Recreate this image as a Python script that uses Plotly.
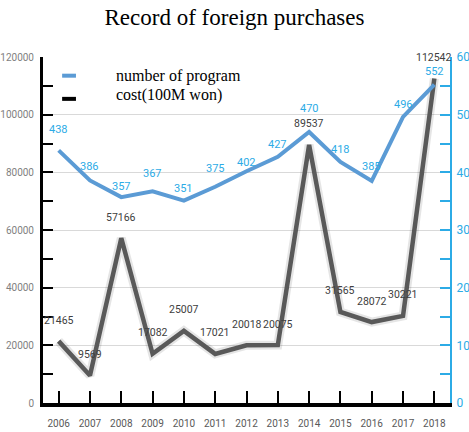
import plotly.graph_objects as go

years = ["2006", "2007", "2008", "2009", "2010", "2011", "2012", "2013", "2014", "2015", "2016", "2017", "2018"]
programs = [438, 386, 357, 367, 351, 375, 402, 427, 470, 418, 385, 496, 552]
costs = [21465, 9569, 57166, 17082, 25007, 17021, 20018, 20075, 89537, 31565, 28072, 30221, 112542]

# label vertical offsets (px above point) - styling only
prog_lift = [21, 14, 11, 18, 12, 18, 9, 12, 23, 12, 14, 12, 13]
cost_lift = 21

narrow = "Liberation Sans Narrow, Roboto, Liberation Sans, sans-serif"
serif = "Liberation Serif, Times New Roman, serif"
blue_line = "#5b9bd5"
blue_txt = "#2cabe6"
gray_line = "#595959"

fig = go.Figure()
# soft shadow for cost line
fig.add_trace(go.Scatter(x=years, y=costs, mode="lines", yaxis="y",
                         line=dict(color="rgba(0,0,0,0.10)", width=9),
                         hoverinfo="skip", showlegend=False))
fig.add_trace(go.Scatter(x=years, y=costs, mode="lines", yaxis="y", name="cost(100M won)",
                         line=dict(color=gray_line, width=4.5), showlegend=False))
fig.add_trace(go.Scatter(x=years, y=programs, mode="lines", yaxis="y2", name="number of program",
                         line=dict(color=blue_line, width=4), showlegend=False))

for i, v in enumerate(costs):
    fig.add_annotation(x=i, y=v, xref="x", yref="y", text=str(v), showarrow=False,
                       xanchor="center", yanchor="middle", yshift=cost_lift,
                       font=dict(family=narrow, size=10.5, color="#404040"))
for i, (v, s) in enumerate(zip(programs, prog_lift)):
    fig.add_annotation(x=i, y=v, xref="x", yref="y2", text=str(v), showarrow=False,
                       xanchor="center", yanchor="middle", yshift=s,
                       font=dict(family=narrow, size=11, color=blue_txt))

# custom legend
fig.add_shape(type="line", xref="paper", yref="paper", x0=0.047, x1=0.081, y0=0.946, y1=0.946,
              line=dict(color=blue_line, width=4))
fig.add_shape(type="line", xref="paper", yref="paper", x0=0.047, x1=0.081, y0=0.879, y1=0.879,
              line=dict(color="#000000", width=4))
fig.add_annotation(xref="paper", yref="paper", x=0.178, y=0.945, xanchor="left", yanchor="middle",
                   text="number of program", showarrow=False, borderpad=0,
                   font=dict(family=serif, size=16, color="#000"))
fig.add_annotation(xref="paper", yref="paper", x=0.178, y=0.889, xanchor="left", yanchor="middle",
                   text="cost(100M won)", showarrow=False, borderpad=0,
                   font=dict(family=serif, size=16, color="#000"))

fig.update_layout(
    width=469, height=432,
    margin=dict(l=43, r=19, t=57, b=29, autoexpand=False),
    paper_bgcolor="white", plot_bgcolor="white",
    title=dict(text="Record of foreign purchases", x=0.5, xref="container", xanchor="center",
               y=1 - 17 / 432, yref="container", yanchor="middle",
               font=dict(family=serif, size=23, color="#000")),
    xaxis=dict(type="category", range=[-0.5, 12.5], showline=True, linecolor="#000", linewidth=4,
               ticks="inside", ticklen=12, tickwidth=2, tickcolor="#000", automargin=False,
               tickfont=dict(family=narrow, size=10, color="#595959"),
               ticklabelstandoff=8, showgrid=False, zeroline=False),
    yaxis=dict(range=[0, 120000], dtick=20000, tickformat="d", showline=True, linecolor="#000", linewidth=3,
               ticks="inside", ticklen=10, tickwidth=2, tickcolor="#000", automargin=False,
               minor=dict(dtick=10000, ticks="inside", ticklen=10, tickwidth=2, tickcolor="#000", showgrid=False),
               showgrid=True, gridcolor="#d9d9d9", gridwidth=1, zeroline=False,
               tickfont=dict(family=narrow, size=10, color="#7f7f7f"), ticklabelstandoff=4),
    yaxis2=dict(range=[0, 600], dtick=100, tickformat="d", overlaying="y", side="right", showline=True,
                linecolor=blue_txt, linewidth=2, ticks="inside", ticklen=10, tickwidth=2, tickcolor=blue_txt,
                minor=dict(dtick=50, ticks="inside", ticklen=10, tickwidth=2, tickcolor=blue_txt, showgrid=False),
                showgrid=False, zeroline=False, automargin=False,
                tickfont=dict(family=narrow, size=12, color=blue_txt), ticklabelstandoff=2),
)

fig.write_html("out.html", config={"displayModeBar": False},
               post_script="document.body.style.margin='0';document.body.style.overflow='hidden';")
